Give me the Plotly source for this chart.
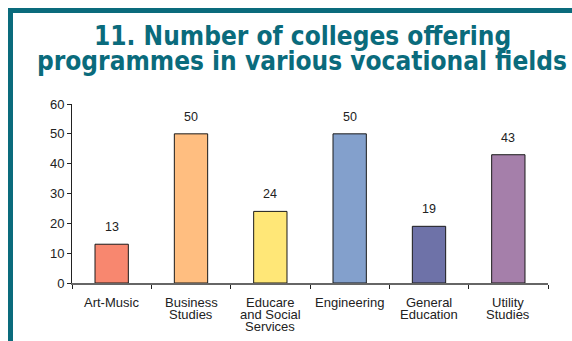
import plotly.graph_objects as go

categories = ["Art-Music", "Business Studies", "Educare and Social Services",
              "Engineering", "General Education", "Utility Studies"]
label_lines = [["Art-Music"], ["Business", "Studies"], ["Educare", "and Social", "Services"],
               ["Engineering"], ["General", "Education"], ["Utility", "Studies"]]
colleges = [13, 50, 24, 50, 19, 43]
bar_colors = ["#F8876F", "#FFBE80", "#FFE777", "#83A0CC", "#6E72A8", "#A57FAA"]
y_ticks = [0, 10, 20, 30, 40, 50, 60]
title_lines = ["11. Number of colleges offering",
               "programmes in various vocational fields"]

W, H = 572, 341
L, R, T, B = 72, 24, 104, 58
pw, ph = W - L - R, H - T - B


def px_x(x):
    return (x - L) / pw


def px_y(y):
    return (H - B - y) / ph


teal = "#0A6B7C"
txt = "#222222"

fig = go.Figure(go.Bar(
    x=categories, y=colleges,
    marker=dict(color=bar_colors, line=dict(color="#1a1a1a", width=1)),
    width=0.42,
    hoverinfo="skip",
))

# value labels above the bars
for cat, v in zip(categories, colleges):
    fig.add_annotation(x=cat, y=v, text=str(v), showarrow=False,
                       yshift=17, font=dict(family="Liberation Sans", size=12.5, color=txt))

# category labels, tightly stacked lines
for cat, lines in zip(categories, label_lines):
    for i, ln in enumerate(lines):
        fig.add_annotation(x=cat, xref="x", yref="paper", y=px_y(302 + 12 * i),
                           text=ln, showarrow=False, xanchor="center", yanchor="middle",
                           font=dict(family="Liberation Sans", size=13, color=txt))

for line, yc in zip(title_lines, [36, 61]):
    fig.add_annotation(xref="paper", yref="paper", x=px_x(302), y=px_y(yc),
                       text="<b>%s</b>" % line, showarrow=False,
                       xanchor="center", yanchor="middle",
                       font=dict(family="DejaVu Sans Condensed", size=26, color=teal))

# frame: left and top bars
fig.add_shape(type="rect", xref="paper", yref="paper", layer="below",
              x0=px_x(8), x1=px_x(13), y0=px_y(H + 5), y1=px_y(8),
              fillcolor=teal, line=dict(width=0))
fig.add_shape(type="rect", xref="paper", yref="paper", layer="below",
              x0=px_x(8), x1=px_x(W + 5), y0=px_y(13), y1=px_y(8),
              fillcolor=teal, line=dict(width=0))

fig.update_layout(
    width=W, height=H,
    margin=dict(l=L, r=R, t=T, b=B, pad=0),
    paper_bgcolor="white", plot_bgcolor="white",
    showlegend=False,
    font=dict(family="Liberation Sans", size=13, color=txt),
    xaxis=dict(showline=True, linecolor="#666", linewidth=1.5,
               ticks="outside", tickson="boundaries", ticklen=4, tickcolor=txt,
               showticklabels=False, showgrid=False),
    yaxis=dict(range=[0, 60], tickvals=y_ticks, showline=True, linecolor=txt,
               linewidth=1, ticks="outside", ticklen=4, tickcolor=txt,
               showgrid=False, zeroline=False, tickfont=dict(size=13, color=txt)),
)

fig.write_html("out.html")
